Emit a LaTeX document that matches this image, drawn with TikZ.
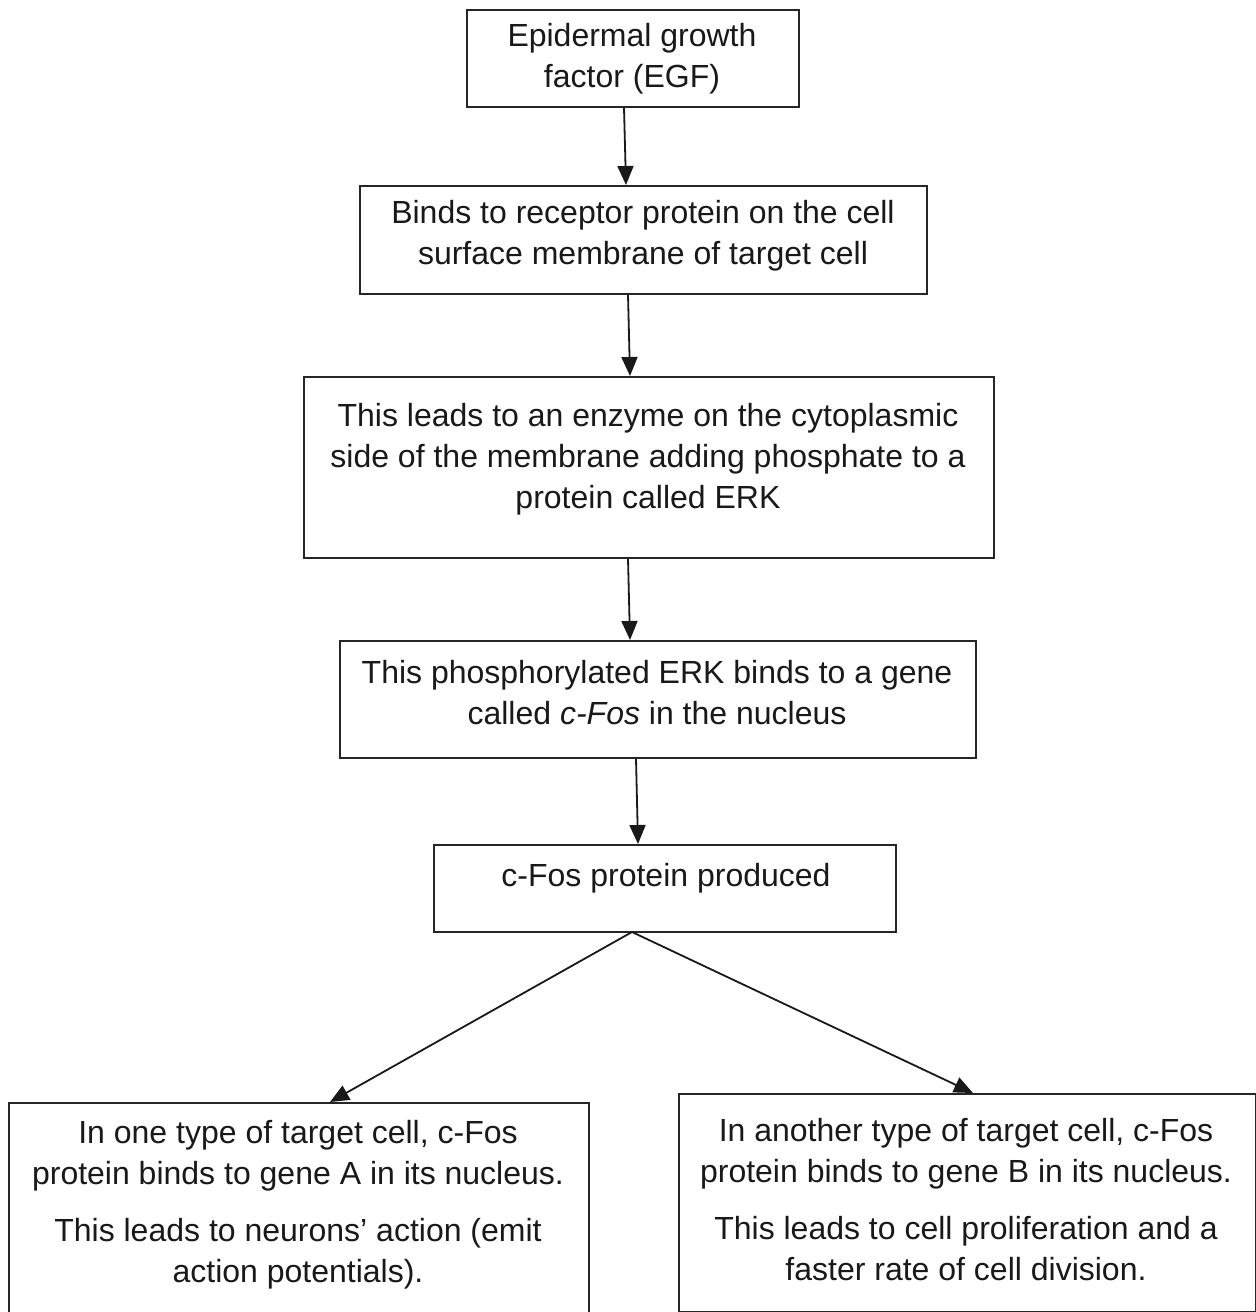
\documentclass[tikz,border=0pt]{standalone}
\usepackage{fontspec}
\setmainfont{Liberation Sans}
\usetikzlibrary{arrows.meta}
\begin{document}
\begin{tikzpicture}[x=0.5pt,y=-0.5pt,
  box/.style={draw=black!85, line width=0.9pt, inner sep=0pt, anchor=north west},
  txt/.style={align=center, font=\fontsize{16}{20.5}\selectfont, inner sep=0pt, text=black!90},
  arr/.style={line width=0.9pt, draw=black!90, -{Triangle[length=9.5pt,width=8pt]}}]
\useasboundingbox (0,0) rectangle (1256,1312);
\clip (0,0) rectangle (1256,1312);
\fill[white] (0,0) rectangle (1256,1312);
% boxes
\node[box, minimum width=166pt, minimum height=48.5pt] (b1) at (466,9) {};
\node[box, minimum width=283.5pt, minimum height=54pt] (b2) at (359,185) {};
\node[box, minimum width=345pt, minimum height=90.5pt] (b3) at (303,376) {};
\node[box, minimum width=318pt, minimum height=58.5pt] (b4) at (339,640) {};
\node[box, minimum width=231pt, minimum height=43.5pt] (b5) at (433,844) {};
\node[box, minimum width=290pt, minimum height=112pt] (b6) at (8,1102) {};
\node[box, minimum width=288.5pt, minimum height=109pt] (b7) at (678,1093) {};
% texts
\node[txt] (t1) at (632,59) {Epidermal growth\\factor (EGF)};
\node[txt] (t2) at (643,236) {Binds to receptor protein on the cell\\surface membrane of target cell};
\node[txt] (t3) at (648,459) {This leads to an enzyme on the cytoplasmic\\side of the membrane adding phosphate to a\\protein called ERK};
\node[txt] (t4) at (657,693) {This phosphorylated ERK binds to a gene\\called \textit{c-Fos} in the nucleus};
\node[txt] (t5) at (666,878) {c-Fos protein produced};
\node[txt] (t6) at (298,1205) {In one type of target cell, c-Fos\\protein binds to gene A in its nucleus.\\[8pt]This leads to neurons’ action (emit\\action potentials).};
\node[txt] (t7) at (966,1200) {In another type of target cell, c-Fos\\protein binds to gene B in its nucleus.\\[8pt]This leads to cell proliferation and a\\faster rate of cell division.};
% arrows
\draw[arr] (b1.south -| 624,0) -- (b2.north -| 626,0);
\draw[arr] (b2.south -| 628,0) -- (b3.north -| 630,0);
\draw[arr] (b3.south -| 628,0) -- (b4.north -| 630,0);
\draw[arr] (b4.south -| 636,0) -- (b5.north -| 638,0);
\coordinate (fork) at (632,932);
\draw[arr] (fork) -- (b6.north -| 330,0);
\draw[arr] (fork) -- (b7.north -| 973,0);
\end{tikzpicture}
\end{document}
